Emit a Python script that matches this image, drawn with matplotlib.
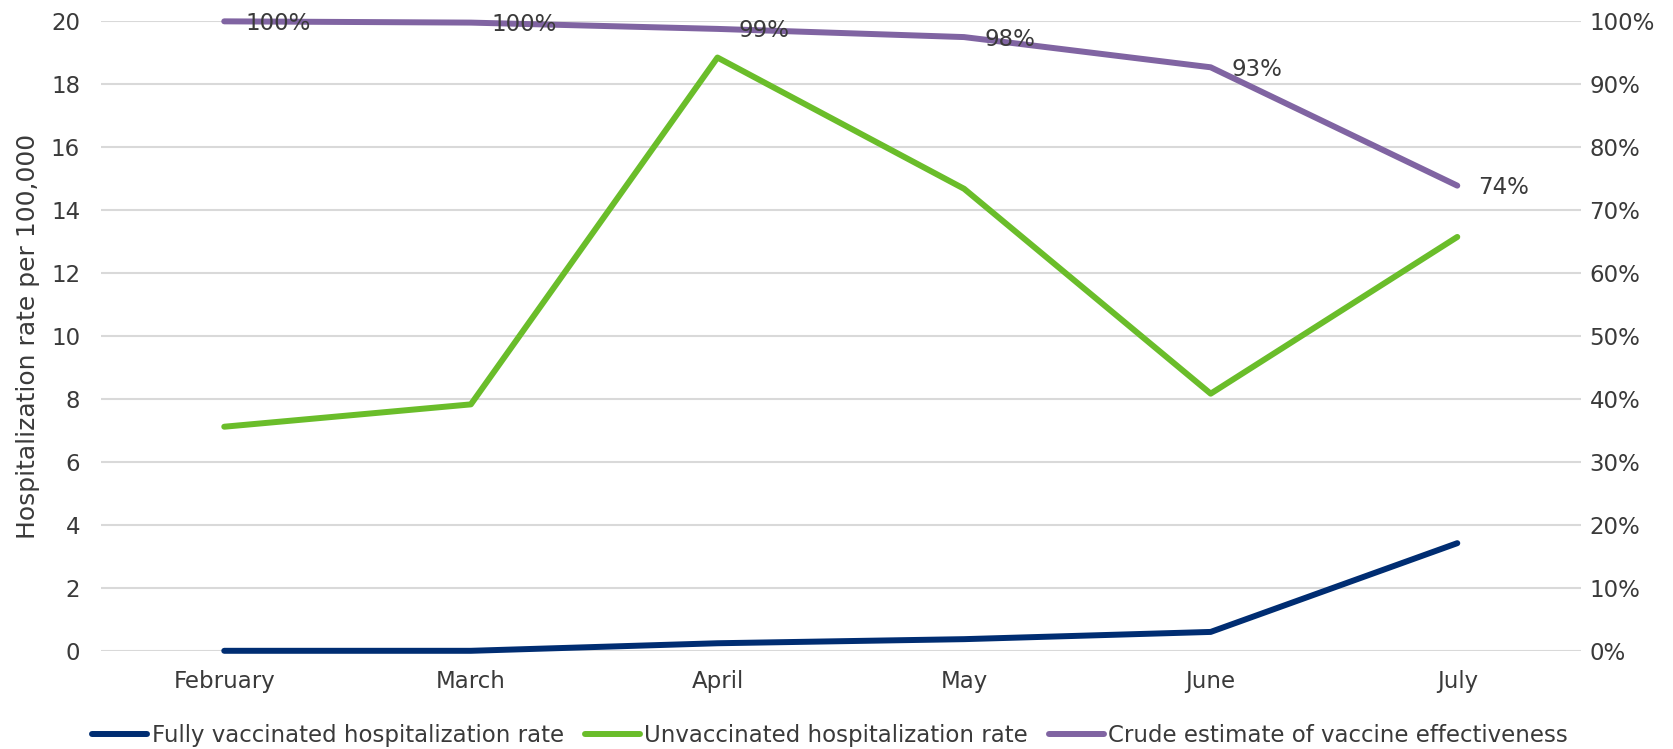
import matplotlib
matplotlib.use("Agg")
import matplotlib.pyplot as plt
from matplotlib.ticker import FuncFormatter

months = ["February", "March", "April", "May", "June", "July"]
fully_vacc = [0.0, 0.0, 0.24, 0.37, 0.6, 3.42]
unvacc = [7.12, 7.83, 18.85, 14.68, 8.17, 13.15]
effectiveness = [1.0, 0.998, 0.988, 0.975, 0.927, 0.739]
eff_labels = ["100%", "100%", "99%", "98%", "93%", "74%"]

plt.rcParams['font.family'] = ['DejaVu Sans']
text_color = "#3A3A3A"
fs = 16.5

fig = plt.figure(figsize=(16.74, 7.49), dpi=100)
ax = fig.add_axes([0.0603, 0.1311, 0.8839, 0.8404])
ax2 = ax.twinx()

x = list(range(len(months)))
lw = 4.3
l1, = ax.plot(x, fully_vacc, color="#002D72", lw=lw, solid_capstyle="round",
              solid_joinstyle="round", clip_on=False,
              label="Fully vaccinated hospitalization rate")
l2, = ax.plot(x, unvacc, color="#6ABD2A", lw=lw, solid_capstyle="round",
              solid_joinstyle="round", clip_on=False,
              label="Unvaccinated hospitalization rate")
l3, = ax2.plot(x, effectiveness, color="#8064A2", lw=lw, solid_capstyle="round",
               solid_joinstyle="round", clip_on=False,
               label="Crude estimate of vaccine effectiveness")

for xi, v, lab in zip(x, effectiveness, eff_labels):
    ax2.annotate(lab, (xi, v), xytext=(15, -1.5), textcoords="offset points",
                 ha="left", va="center", fontsize=fs, color=text_color)

ax.set_xlim(-0.5, 5.5)
ax.set_ylim(0, 20)
ax.set_yticks(range(0, 21, 2))
ax2.set_ylim(0, 1.0)
ax2.set_yticks([i / 10 for i in range(11)])
ax2.yaxis.set_major_formatter(FuncFormatter(lambda v, p: f"{v*100:.0f}%"))
ax.set_xticks(x)
ax.set_xticklabels(months)

ax.grid(axis="y", color="#D9D9D9", lw=1.5)
ax.set_axisbelow(True)
for a in (ax, ax2):
    for s in a.spines.values():
        s.set_visible(False)
    a.tick_params(length=0, labelsize=fs, colors=text_color)
ax.tick_params(axis="y", pad=15)
ax2.tick_params(axis="y", pad=6.5)
ax.tick_params(axis="x", pad=14)

ax.set_ylabel("Hospitalization rate per 100,000", fontsize=18, color=text_color, labelpad=8)

fig.legend(handles=[l1, l2, l3], loc="center", bbox_to_anchor=(0.496, 0.0185), ncol=3,
           frameon=False, fontsize=fs, handlelength=2.4, columnspacing=0.9,
           handletextpad=0.2, labelcolor=text_color, borderpad=0)

fig.savefig("out.png", dpi=100)
